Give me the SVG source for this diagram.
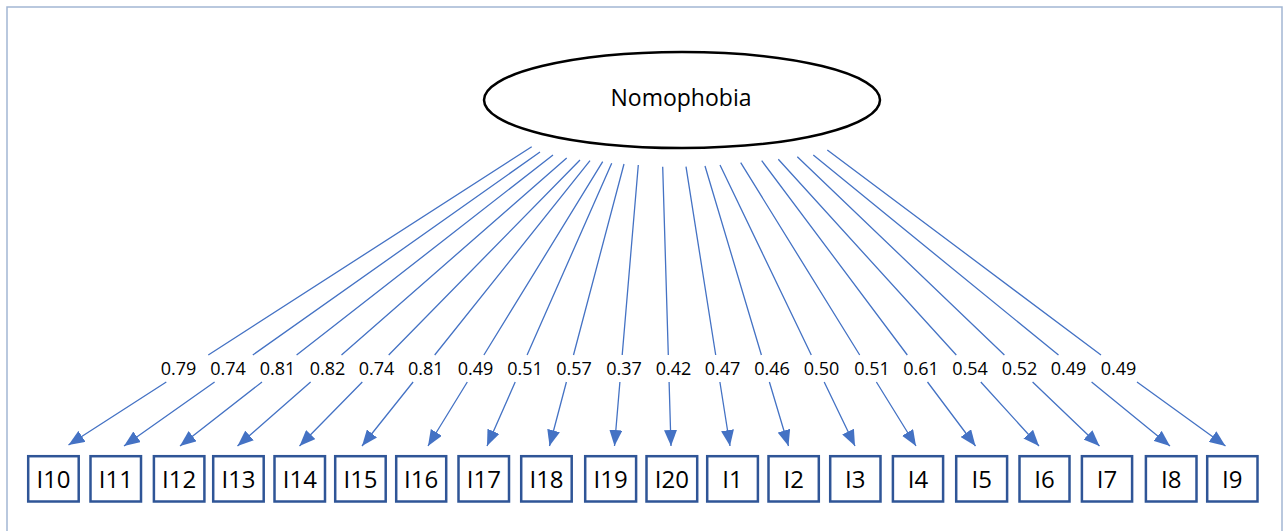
<svg xmlns="http://www.w3.org/2000/svg" width="1286" height="531" viewBox="0 0 1286 531">
<style>
.frame{fill:#ffffff;stroke:#a3b6d3;stroke-width:1.5}
.latent{fill:#ffffff;stroke:#000000;stroke-width:2.5}
.box{fill:#ffffff;stroke:#2f5597;stroke-width:2.5}
.lbl{font-family:"Open Sans","Liberation Sans",sans-serif;fill:#000000;text-anchor:middle}
.t1{font-size:23px}
.t2{font-size:24px}
.t3{font-size:18px}
.conn{fill:none;stroke:#4472c4;stroke-width:1.3;marker-end:url(#ah)}
</style>
<defs>
<marker id="ah" markerUnits="userSpaceOnUse" markerWidth="16" markerHeight="13" refX="16" refY="6.5" orient="auto" viewBox="0 0 16 13">
<path d="M0,0 L16,6.5 L0,13 z" fill="#4472c4"/>
</marker>
</defs>
<rect class="frame" x="7" y="7" width="1275" height="540"/>
<g id="Nomophobia">
<ellipse class="latent" cx="682" cy="100" rx="198" ry="48"/>
<text class="lbl t1" x="681" y="106">Nomophobia</text>
</g>
<g id="connectors">
<path class="conn" d="M531.7,146.7 L208.3,355 M166.3,382 L68.5,445"/>
<path class="conn" d="M540,152 L252.8,355 M214.6,382 L124,446"/>
<path class="conn" d="M553,155 L296.6,355 M262,382 L180,446"/>
<path class="conn" d="M566.7,158 L341.5,355 M310.6,382 L237.5,446"/>
<path class="conn" d="M580,160 L388.7,355 M362.3,382 L299.5,446"/>
<path class="conn" d="M590,160.7 L434.7,355 M413.1,382 L362,446"/>
<path class="conn" d="M602.7,161.7 L483.9,355 M467.3,382 L428,446"/>
<path class="conn" d="M611.7,163.3 L527.1,355 M515.2,382 L487,446"/>
<path class="conn" d="M624,164 L573.5,355 M566.4,382 L549.5,446"/>
<path class="conn" d="M638.3,165 L622.2,355 M619.9,382 L614.5,446"/>
<path class="conn" d="M662.7,166.7 L668.3,355 M669.1,382 L671,446"/>
<path class="conn" d="M686,166.7 L715.7,355 M719.9,382 L730,446"/>
<path class="conn" d="M705,166 L761.4,355 M769.4,382 L788.5,446"/>
<path class="conn" d="M720,165 L811.3,355 M824.2,382 L855,446"/>
<path class="conn" d="M740.7,162.7 L859.7,355 M876.4,382 L916,446"/>
<path class="conn" d="M761.7,160.7 L907.3,355 M927.5,382 L975.5,446"/>
<path class="conn" d="M778.3,159.3 L956.3,355 M980.8,382 L1039,446"/>
<path class="conn" d="M797.3,156.7 L1004.4,355 M1032.6,382 L1099.5,446"/>
<path class="conn" d="M813.3,155 L1058.5,355 M1091.6,382 L1170,446"/>
<path class="conn" d="M827.3,150 L1101,355 M1137,382 L1225.5,446"/>
</g>
<g id="loadings">
<text class="lbl t3" x="178.5" y="375">0.79</text>
<text class="lbl t3" x="228" y="375">0.74</text>
<text class="lbl t3" x="277.5" y="375">0.81</text>
<text class="lbl t3" x="327.5" y="375">0.82</text>
<text class="lbl t3" x="376.5" y="375">0.74</text>
<text class="lbl t3" x="425.8" y="375">0.81</text>
<text class="lbl t3" x="475.5" y="375">0.49</text>
<text class="lbl t3" x="525" y="375">0.51</text>
<text class="lbl t3" x="574" y="375">0.57</text>
<text class="lbl t3" x="624" y="375">0.37</text>
<text class="lbl t3" x="673.5" y="375">0.42</text>
<text class="lbl t3" x="722.5" y="375">0.47</text>
<text class="lbl t3" x="772" y="375">0.46</text>
<text class="lbl t3" x="821.5" y="375">0.50</text>
<text class="lbl t3" x="872" y="375">0.51</text>
<text class="lbl t3" x="921" y="375">0.61</text>
<text class="lbl t3" x="970" y="375">0.54</text>
<text class="lbl t3" x="1019.5" y="375">0.52</text>
<text class="lbl t3" x="1068.5" y="375">0.49</text>
<text class="lbl t3" x="1118.5" y="375">0.49</text>
</g>
<g id="I10"><rect class="box" x="28.2" y="456.2" width="50.5" height="45.3"/><text class="lbl t2" x="53.5" y="488">I10</text></g>
<g id="I11"><rect class="box" x="90.5" y="456.2" width="50.5" height="45.3"/><text class="lbl t2" x="115.8" y="488">I11</text></g>
<g id="I12"><rect class="box" x="153.9" y="456.2" width="50.5" height="45.3"/><text class="lbl t2" x="179.2" y="488">I12</text></g>
<g id="I13"><rect class="box" x="213.2" y="456.2" width="50.5" height="45.3"/><text class="lbl t2" x="238.5" y="488">I13</text></g>
<g id="I14"><rect class="box" x="274.5" y="456.2" width="50.5" height="45.3"/><text class="lbl t2" x="299.8" y="488">I14</text></g>
<g id="I15"><rect class="box" x="335.2" y="456.2" width="50.5" height="45.3"/><text class="lbl t2" x="360.5" y="488">I15</text></g>
<g id="I16"><rect class="box" x="396.2" y="456.2" width="50" height="45.3"/><text class="lbl t2" x="421.2" y="488">I16</text></g>
<g id="I17"><rect class="box" x="458.5" y="456.2" width="50.5" height="45.3"/><text class="lbl t2" x="483.8" y="488">I17</text></g>
<g id="I18"><rect class="box" x="521.2" y="456.2" width="50.5" height="45.3"/><text class="lbl t2" x="546.5" y="488">I18</text></g>
<g id="I19"><rect class="box" x="585.2" y="456.2" width="50.9" height="45.3"/><text class="lbl t2" x="610.7" y="488">I19</text></g>
<g id="I20"><rect class="box" x="646.5" y="456.2" width="50.7" height="45.3"/><text class="lbl t2" x="671.8" y="488">I20</text></g>
<g id="I1"><rect class="box" x="707.2" y="456.2" width="50.7" height="45.3"/><text class="lbl t2" x="732.5" y="488">I1</text></g>
<g id="I2"><rect class="box" x="768.5" y="456.2" width="50.3" height="45.3"/><text class="lbl t2" x="793.7" y="488">I2</text></g>
<g id="I3"><rect class="box" x="830.2" y="456.2" width="50.3" height="45.3"/><text class="lbl t2" x="855.3" y="488">I3</text></g>
<g id="I4"><rect class="box" x="892.9" y="456.2" width="50.2" height="45.3"/><text class="lbl t2" x="918" y="488">I4</text></g>
<g id="I5"><rect class="box" x="956.2" y="456.2" width="50.9" height="45.3"/><text class="lbl t2" x="981.7" y="488">I5</text></g>
<g id="I6"><rect class="box" x="1019.5" y="456.2" width="50" height="45.3"/><text class="lbl t2" x="1044.5" y="488">I6</text></g>
<g id="I7"><rect class="box" x="1081.9" y="456.2" width="50.2" height="45.3"/><text class="lbl t2" x="1107" y="488">I7</text></g>
<g id="I8"><rect class="box" x="1145.9" y="456.2" width="50.6" height="45.3"/><text class="lbl t2" x="1171.2" y="488">I8</text></g>
<g id="I9"><rect class="box" x="1207.2" y="456.2" width="50.3" height="45.3"/><text class="lbl t2" x="1232.3" y="488">I9</text></g>
</svg>
